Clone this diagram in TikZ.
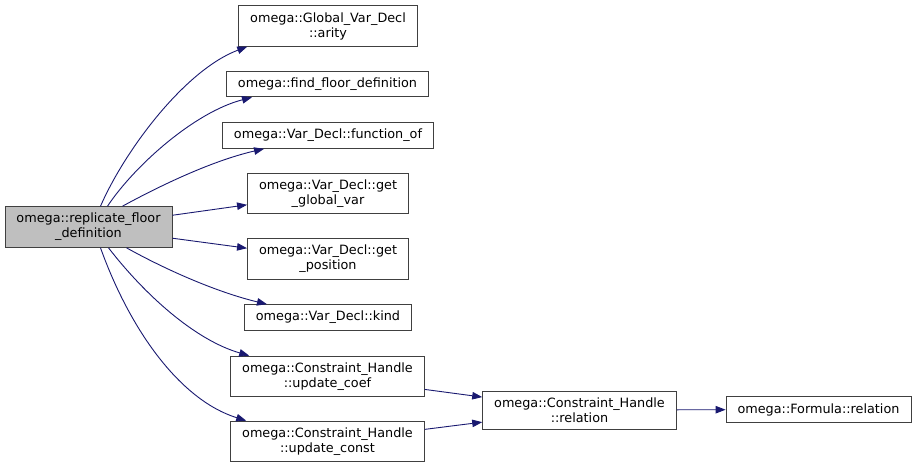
\documentclass[tikz,border=0pt]{standalone}
\usepackage{fontspec}
\setmainfont{DejaVu Sans}
\usepackage{xcolor}
\usepackage{tikz}
\usetikzlibrary{arrows.meta}

\definecolor{edgeblue}{RGB}{25,25,112}

\begin{document}
\begin{tikzpicture}[
        x=1pt, y=-1pt,
        every node/.style={font=\fontsize{12.8}{15}\selectfont},
        func/.style={rectangle, draw=black!75, line width=0.9pt, align=center, inner xsep=11.5pt, inner ysep=6.5pt},
        current/.style={func, fill=black!25},
        call/.style={-{Triangle[length=10pt, width=7.5pt]}, draw=edgeblue, line width=0.9pt},
    ]
        \useasboundingbox (0,0) rectangle (917,468);

        % Nodes
        \node[current] (replicate) at (88.5,227) {omega::replicate\_floor\\\_definition};
        \node[func] (arity) at (328,26) {omega::Global\_Var\_Decl\\::arity};
        \node[func] (findfloor) at (327.5,84) {omega::find\_floor\_definition};
        \node[func] (functionof) at (328,135.5) {omega::Var\_Decl::function\_of};
        \node[func] (globalvar) at (328,193.5) {omega::Var\_Decl::get\\\_global\_var};
        \node[func] (position) at (328,259) {omega::Var\_Decl::get\\\_position};
        \node[func] (kind) at (328,317.5) {omega::Var\_Decl::kind};
        \node[func] (updatecoef) at (327.5,376.5) {omega::Constraint\_Handle\\::update\_coef};
        \node[func] (updateconst) at (327.5,441.5) {omega::Constraint\_Handle\\::update\_const};
        \node[func] (chrelation) at (579.5,410) {omega::Constraint\_Handle\\::relation};
        \node[func] (formularelation) at (818.5,409.5) {omega::Formula::relation};

        % Arrows
        \draw[call] ([xshift=12pt]replicate.north) .. controls (125,150) and (185,70) .. ([xshift=9pt]arity.south west);
        \draw[call] ([xshift=19pt]replicate.north) .. controls (135,165) and (195,112) .. ([xshift=26pt]findfloor.south west);
        \draw[call] ([xshift=34pt]replicate.north) .. controls (165,183) and (215,160) .. ([xshift=42pt]functionof.south west);
        \draw[call] (replicate) -- (globalvar);
        \draw[call] (replicate) -- (position);
        \draw[call] ([xshift=38pt]replicate.south) .. controls (170,272) and (220,293) .. ([xshift=23pt]kind.north west);
        \draw[call] ([xshift=20pt]replicate.south) .. controls (145,295) and (195,340) .. ([xshift=19pt]updatecoef.north west);
        \draw[call] ([xshift=12pt]replicate.south) .. controls (130,330) and (180,400) .. ([xshift=16pt]updateconst.north west);
        \draw[call] (updatecoef) -- (chrelation);
        \draw[call] (updateconst) -- (chrelation);
        \draw[call] (chrelation) -- (formularelation);

    \end{tikzpicture}
\end{document}
